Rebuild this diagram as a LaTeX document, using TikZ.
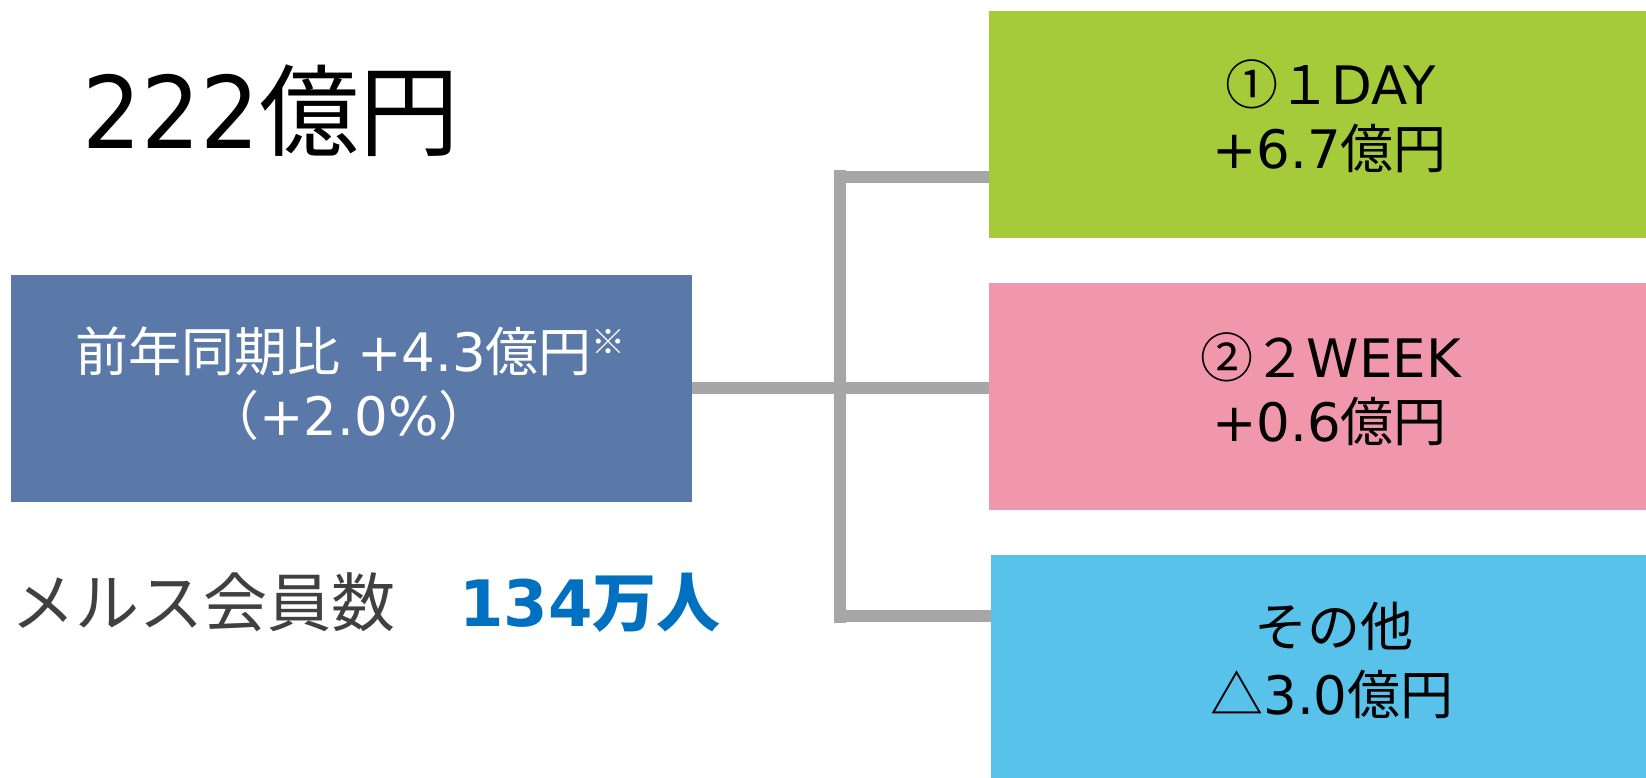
\documentclass[tikz,border=0pt]{standalone}
\usepackage{fontspec}
\setmainfont{DejaVu Sans}
\newfontfamily\cjk{Noto Sans CJK JP}
\newfontfamily\narrowdigits[FakeStretch=0.93]{DejaVu Sans}
\definecolor{boxblue}{HTML}{5A78A8}
\definecolor{boxgreen}{HTML}{A5CB3A}
\definecolor{boxpink}{HTML}{F097AC}
\definecolor{boxsky}{HTML}{59C2EA}
\definecolor{linegray}{HTML}{A6A6A6}
\definecolor{darktext}{HTML}{404040}
\definecolor{bluetext}{HTML}{0070C0}
\begin{document}
\begin{tikzpicture}[x=1pt,y=-1pt,
  box/.style={rectangle, inner sep=0pt, outer sep=0pt, minimum width=681pt, minimum height=226.7pt},
  conn/.style={draw=linegray, line width=12pt},
  txt/.style={anchor=base, inner sep=0pt, outer sep=0pt},
  big/.style={font=\fontsize{100}{100}\selectfont},
  mid/.style={font=\fontsize{53}{53}\selectfont},
  rt/.style={font=\fontsize{53}{53}\selectfont}]
\useasboundingbox (0,0) rectangle (1646,778);
\clip (0,0) rectangle (1646,778);
\fill[white] (0,0) rectangle (1646,778);
% boxes
\node[box, fill=boxblue] (left) at (351.1,388.3) {};
\node[box, fill=boxgreen] (green) at (1329.5,124.3) {};
\node[box, fill=boxpink] (pink) at (1329.5,396.6) {};
\node[box, fill=boxsky] (sky) at (1331.2,668.3) {};
% connectors
\coordinate (sT) at (839.5,170);
\coordinate (sB) at (839.5,622.7);
\coordinate (bT) at (833.5,177);
\coordinate (bB) at (833.5,616);
\draw[conn] (sT) -- (sB);
\draw[conn] (bT) -- (bT -| green.west);
\draw[conn] (bB) -- (bB -| sky.west);
\draw[conn] (left.east) -- (left.east -| pink.west);
% texts
\node[txt, big] (total) at (271,149) {{\narrowdigits 222}{\cjk 億円}};
\node[txt, mid, text=white] (l1) at (350.5,371.7) {{\cjk 前年同期比} +4.3{\cjk 億円}\raisebox{17pt}{\fontsize{34}{34}\selectfont\cjk ※}};
\node[txt, mid, text=white] (l2) at (349,435) {{\cjk （}+2.0\%{\cjk ）}};
\node[txt, font=\fontsize{64}{64}\selectfont] (members) at (366,626) {\textcolor{darktext}{\cjk メルス会員数　}\textcolor{bluetext}{\bfseries 134{\cjk 万人}}};
\node[txt, rt] (g1) at (1331,105) {{\cjk ①１}DAY};
\node[txt, rt] (g2) at (1329.5,169) {+6.7{\cjk 億円}};
\node[txt, rt] (p1) at (1331,377) {{\cjk ②２}WEEK};
\node[txt, rt] (p2) at (1329.5,441) {+0.6{\cjk 億円}};
\node[txt, rt] (s1) at (1333.6,646) {{\cjk その他}};
\node[txt, rt] (s2) at (1332,714.6) {{\cjk △}3.0{\cjk 億円}};
\end{tikzpicture}
\end{document}
